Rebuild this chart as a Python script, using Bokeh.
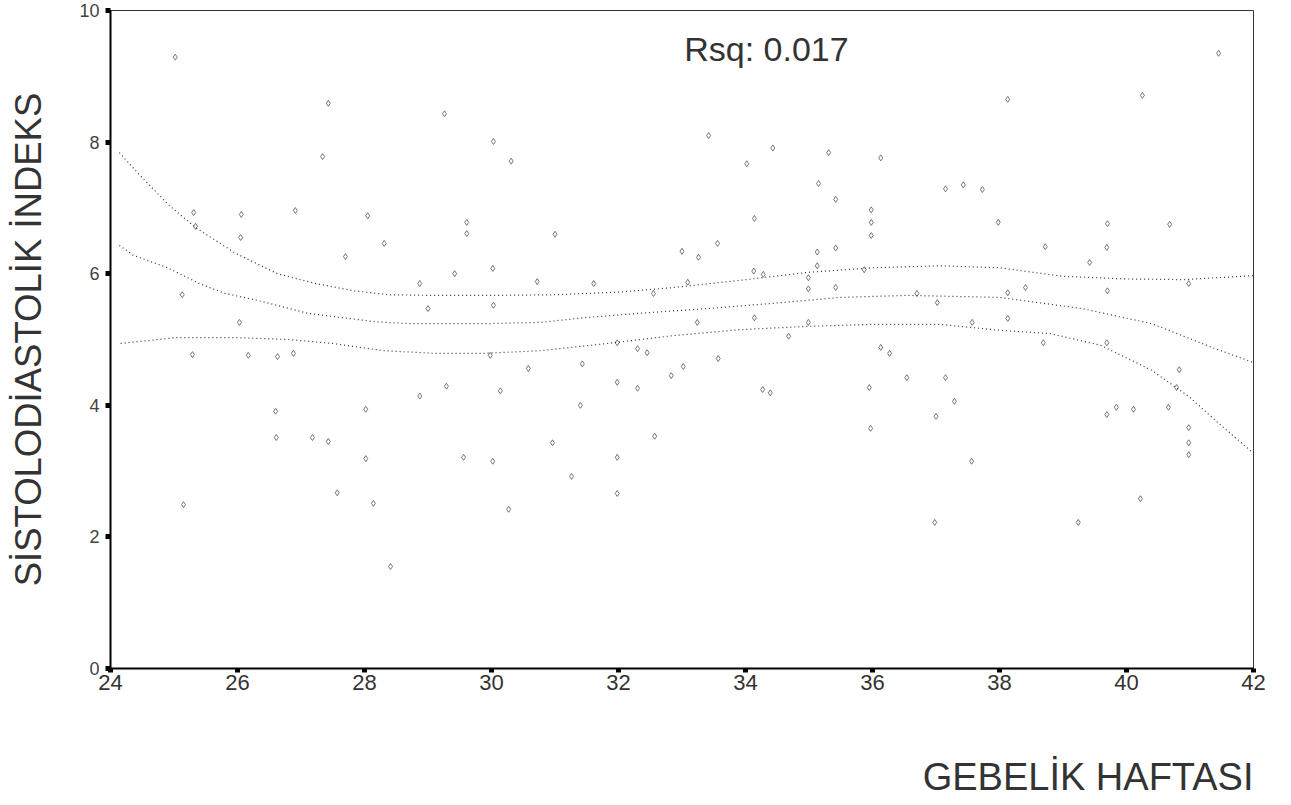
from bokeh.plotting import figure
from bokeh.models import Range1d, FixedTicker, Label, Title, ColumnDataSource
from bokeh.embed import file_html
from bokeh.resources import INLINE

# ---- data ----
gestation_week = [
    25.02, 27.43, 29.26, 30.03, 30.31, 27.34,
    25.31, 25.34, 26.06, 26.05, 26.91, 28.05,
    27.70, 28.31, 29.61, 29.61, 30.02, 30.72, 29.42, 28.87, 30.03, 29.00, 26.03, 25.13, 31.00,
    25.29, 26.17, 26.63, 26.88, 29.98, 30.58,
    30.14, 29.29, 28.87, 26.60, 28.02, 26.61, 27.18, 27.43, 28.02, 29.56, 30.02, 27.57, 25.15,
    28.14, 30.27, 28.41,
    30.96, 31.26, 31.98, 31.98, 31.40, 31.43, 31.98, 32.30, 32.30, 32.45, 31.98, 32.57, 32.83,
    33.02, 33.57, 34.68, 34.27, 34.39, 35.95, 35.97, 36.13, 36.27, 36.54, 37.15, 37.29, 37.00,
    37.56, 36.98,
    38.69, 39.69, 40.83, 40.79, 39.84, 39.69, 40.11, 40.66, 40.98, 40.98, 40.98, 40.22, 39.24,
    33.42, 34.43, 35.31, 36.13, 34.02, 35.15, 35.42, 35.98, 35.98, 35.98, 34.14, 33.56, 33.00,
    33.26, 31.61, 35.42, 35.13, 35.13, 34.13, 34.28, 33.09, 32.55, 34.99, 34.99, 35.42, 33.24,
    34.14, 36.70, 37.02, 34.99, 37.57, 35.87,
    41.45, 40.25, 38.13, 37.15, 37.43, 37.73, 37.98, 39.70, 40.68, 38.72, 39.69, 39.42, 38.41,
    38.13, 39.70, 40.98, 38.13,
]
sd_index = [
    9.29, 8.59, 8.43, 8.01, 7.71, 7.78,
    6.93, 6.72, 6.90, 6.55, 6.96, 6.88,
    6.26, 6.46, 6.78, 6.61, 6.08, 5.88, 6.00, 5.85, 5.52, 5.47, 5.26, 5.68, 6.60,
    4.77, 4.76, 4.74, 4.79, 4.76, 4.56,
    4.22, 4.29, 4.14, 3.91, 3.94, 3.51, 3.51, 3.45, 3.19, 3.21, 3.15, 2.67, 2.49,
    2.51, 2.42, 1.55,
    3.43, 2.92, 2.66, 3.21, 4.00, 4.63, 4.35, 4.26, 4.86, 4.80, 4.95, 3.53, 4.45,
    4.59, 4.71, 5.05, 4.24, 4.19, 4.27, 3.65, 4.88, 4.79, 4.42, 4.42, 4.06, 3.83,
    3.15, 2.22,
    4.95, 4.95, 4.54, 4.27, 3.97, 3.86, 3.94, 3.97, 3.66, 3.43, 3.25, 2.58, 2.22,
    8.10, 7.91, 7.84, 7.76, 7.67, 7.37, 7.13, 6.97, 6.78, 6.58, 6.84, 6.46, 6.34,
    6.25, 5.85, 6.39, 6.33, 6.12, 6.04, 5.99, 5.87, 5.70, 5.94, 5.77, 5.79, 5.26,
    5.33, 5.70, 5.56, 5.26, 5.26, 6.06,
    9.35, 8.71, 8.65, 7.29, 7.35, 7.28, 6.78, 6.76, 6.75, 6.41, 6.40, 6.17, 5.79,
    5.71, 5.74, 5.85, 5.32,
]

# cubic fit and its upper / lower band
upper_x = [24.14, 24.42, 24.91, 25.34, 25.97, 26.63, 27.23, 27.83, 28.38, 29.10, 30.00,
           31.00, 32.00, 32.87, 33.92, 34.98, 36.00, 37.07, 38.00, 39.00, 40.00, 40.90, 42.00]
upper_y = [7.84, 7.54, 7.05, 6.70, 6.31, 6.00, 5.85, 5.74, 5.68, 5.67, 5.67,
           5.68, 5.72, 5.79, 5.90, 6.02, 6.09, 6.12, 6.09, 5.96, 5.92, 5.91, 5.97]

fit_x = [24.14, 24.36, 24.90, 25.40, 25.80, 26.20, 26.50, 27.10, 27.50, 28.17, 28.72, 29.87,
         30.77, 31.45, 32.35, 33.40, 34.44, 35.50, 36.55, 38.00, 39.30, 40.40, 41.40, 42.00]
fit_y = [6.43, 6.28, 6.09, 5.85, 5.70, 5.62, 5.55, 5.40, 5.35, 5.27, 5.24, 5.24,
         5.26, 5.33, 5.40, 5.47, 5.55, 5.64, 5.67, 5.64, 5.47, 5.24, 4.86, 4.65]

lower_x = [24.16, 25.05, 25.94, 26.80, 27.50, 28.30, 29.10, 29.90, 30.77, 31.83, 32.87,
           33.92, 34.98, 36.00, 37.07, 38.00, 38.80, 39.60, 40.40, 41.00, 41.40, 42.00]
lower_y = [4.94, 5.03, 5.03, 5.00, 4.94, 4.83, 4.79, 4.79, 4.83, 4.94, 5.06,
           5.15, 5.20, 5.23, 5.23, 5.14, 5.09, 4.91, 4.53, 4.12, 3.77, 3.27]

x_ticks = [24, 26, 28, 30, 32, 34, 36, 38, 40, 42]
y_ticks = [0, 2, 4, 6, 8, 10]
rsq_text = "Rsq: 0.017"
x_title = "GEBELİK HAFTASI"
y_title = "SİSTOLODİASTOLİK İNDEKS"

FONT = "Liberation Sans"

p = figure(width=1283, height=805, output_backend="svg", toolbar_location=None,
           x_range=Range1d(24, 42), y_range=Range1d(0, 10),
           min_border_left=110, min_border_right=30, min_border_top=10, min_border_bottom=137)
p.background_fill_color = "white"
p.border_fill_color = "white"
p.outline_line_color = "#333333"
p.outline_line_width = 1
p.xgrid.visible = False
p.ygrid.visible = False

src = ColumnDataSource(dict(x=gestation_week, y=sd_index))
p.scatter("x", "y", source=src, marker="diamond", size=6, fill_color=None,
          line_color="#555555", line_width=0.8)

for xs, ys in ((upper_x, upper_y), (fit_x, fit_y), (lower_x, lower_y)):
    p.line(xs, ys, line_color="#333333", line_width=1.2, line_dash="1 3")

# axes
p.xaxis.ticker = FixedTicker(ticks=x_ticks)
p.yaxis.ticker = FixedTicker(ticks=y_ticks)
for ax in (p.xaxis, p.yaxis):
    ax.axis_line_color = "black"
    ax.axis_line_width = 2
    ax.major_tick_line_color = "black"
    ax.major_tick_line_width = 5
    ax.major_tick_in = 0
    ax.minor_tick_line_color = None
    ax.major_label_text_font = FONT
    ax.major_label_text_color = "#333333"

p.xaxis.major_tick_out = 4
p.xaxis.major_label_standoff = 2
p.xaxis.major_label_text_font_size = "22px"

p.yaxis.major_tick_out = 5
p.yaxis.major_label_standoff = 6
p.yaxis.major_label_text_font_size = "18px"
p.yaxis.major_label_text_color = "#444444"
p.yaxis.axis_label = y_title
p.yaxis.axis_label_text_font = FONT
p.yaxis.axis_label_text_font_size = "36.5px"
p.yaxis.axis_label_text_font_style = "normal"
p.yaxis.axis_label_text_color = "#333333"
p.yaxis.axis_label_standoff = 27

# spacer, then the x-axis title at the bottom right under the frame
p.add_layout(Title(text=" ", text_font_size="1px", standoff=58), "below")
p.add_layout(Title(text=x_title, align="right", text_font=FONT, text_font_size="38px",
                   text_font_style="normal", text_color="#333333", standoff=0), "below")

p.add_layout(Label(x=34.33, y=9.41, text=rsq_text, text_align="center",
                   text_baseline="middle", text_font=FONT, text_font_size="34px",
                   text_color="#333333"))

open("out.html", "w").write(file_html(p, INLINE))
